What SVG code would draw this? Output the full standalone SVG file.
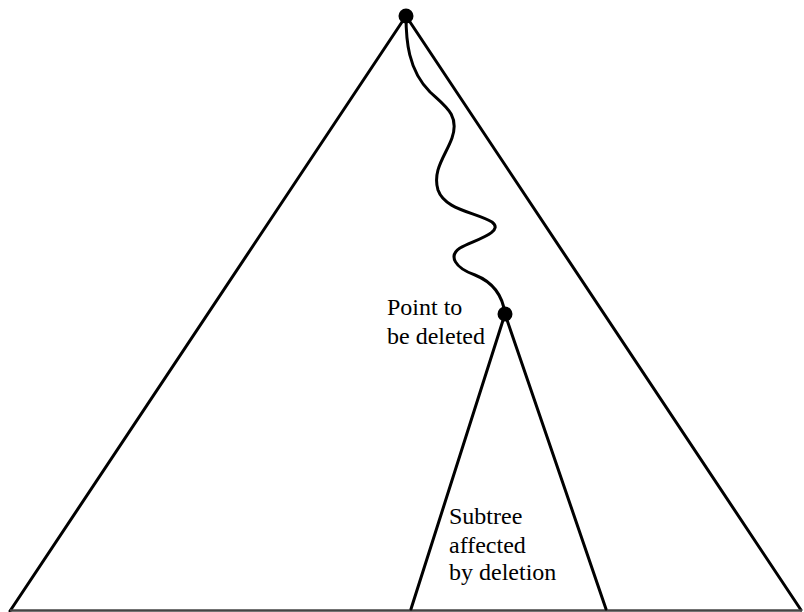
<svg xmlns="http://www.w3.org/2000/svg" width="804" height="612" viewBox="0 0 804 612">
<style>
.ln{fill:none;stroke:#000;stroke-width:3;stroke-linejoin:round;stroke-linecap:round}
.t{font-family:"Liberation Serif",serif;font-size:24px;fill:#000}
</style>
<rect width="804" height="612" fill="#fff"/>
<g id="connectors">
<path class="ln" d="M406,16 L10,611"/>
<path class="ln" d="M406,16 L801,610"/>
<path d="M10,610.5 L802,610.5" stroke="#444" stroke-width="2.5" fill="none"/>
<path class="ln" d="M406,16 C406,40 408,70 430,92 C445,106 460,115 452,138 C446,155 432,170 438,190 C445,210 475,212 492,222 C505,232 475,240 460,248 C448,256 455,268 475,275 C495,283 503,298 505,314"/>
<path class="ln" d="M505,314 L411,609"/>
<path class="ln" d="M505,314 L606,609"/>
</g>
<g id="root"><circle cx="406" cy="16" r="7.5" fill="#000"/></g>
<g id="point"><circle cx="505" cy="314" r="7.5" fill="#000"/>
<text class="t" x="387" y="315">Point to</text>
<text class="t" x="387" y="344">be deleted</text></g>
<g id="subtree">
<text class="t" x="449" y="524">Subtree</text>
<text class="t" x="449" y="553">affected</text>
<text class="t" x="449" y="580">by deletion</text>
</g>
</svg>
